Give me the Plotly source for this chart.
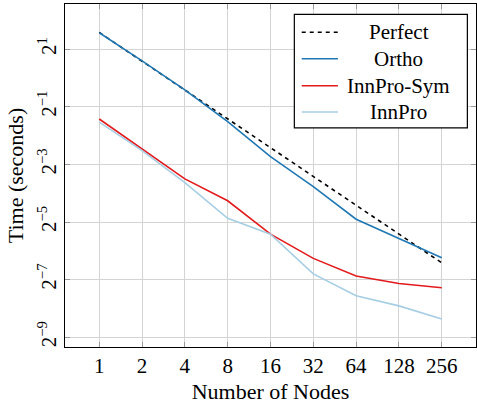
import plotly.graph_objects as go
import math

nodes = [1, 2, 4, 8, 16, 32, 64, 128, 256]
perfect = [3.0, 1.5, 0.75, 0.375, 0.1875, 0.09375, 0.046875, 0.0234375, 0.01171875]
ortho = [2.98, 1.516, 0.7526, 0.3511, 0.1507, 0.0733, 0.0335, 0.0212, 0.01323]
innpro_sym = [0.3737, 0.1805, 0.0884, 0.0522, 0.02336, 0.01305, 0.00855, 0.00714, 0.00643]
innpro = [0.3463, 0.1743, 0.0808, 0.0342, 0.02336, 0.00897, 0.0053, 0.00416, 0.00304]

series_names = ["Perfect", "Ortho", "InnPro-Sym", "InnPro"]
series_colors = ["black", "#1f78b4", "#e31a1c", "#a6cee3"]
series_dash = ["4px,4px", "solid", "solid", "solid"]
series_vals = [perfect, ortho, innpro_sym, innpro]

y_exps = [1, -1, -3, -5, -7, -9]
y_tickvals = [2.0 ** k for k in y_exps]
y_ticktext = ["2<sup>%s</sup>" % (str(k).replace("-", "\u2212")) for k in y_exps]
x_ticktext = [str(n) for n in nodes]

FONT = "Liberation Serif"
fig = go.Figure()
for name, col, dash, vals in zip(series_names, series_colors, series_dash, series_vals):
    fig.add_trace(go.Scatter(x=nodes, y=vals, mode="lines", name=name,
                             line=dict(color=col, width=1.6, dash=dash),
                             showlegend=False))

L2 = math.log10(2)
fig.update_layout(
    width=477, height=404,
    margin=dict(l=65, r=1, t=4, b=57),
    paper_bgcolor="white", plot_bgcolor="white",
    font=dict(family=FONT, size=21, color="black"),
    xaxis=dict(type="log", range=[-0.8 * L2, 8.8 * L2],
               tickvals=nodes, ticktext=x_ticktext,
               showgrid=True, gridcolor="#d4d4d4", gridwidth=1,
               ticks="inside", ticklen=5, tickcolor="#999999",
               showline=True, linecolor="black", linewidth=1, mirror="allticks",
               zeroline=False,
               title=dict(text="Number of Nodes", standoff=6,
                          font=dict(family=FONT, size=22))),
    yaxis=dict(type="log", range=[-9.337 * L2, 2.573 * L2],
               tickvals=y_tickvals, ticktext=y_ticktext, tickangle=-90,
               showgrid=True, gridcolor="#d4d4d4", gridwidth=1,
               ticks="inside", ticklen=5, tickcolor="#999999",
               showline=True, linecolor="black", linewidth=1, mirror="allticks",
               zeroline=False,
               title=dict(text="Time (seconds)", standoff=4,
                          font=dict(family=FONT, size=22))),
)

# legend box (drawn manually to keep centered labels)
bx0, bx1, by0, by1 = 0.558, 0.979, 0.639, 0.970
fig.add_shape(type="rect", xref="paper", yref="paper", x0=bx0, x1=bx1, y0=by0, y1=by1,
              line=dict(color="black", width=1.2), fillcolor="white", layer="above")
rows = [0.9175, 0.8405, 0.7618, 0.685]
for name, col, dash, ry in zip(series_names, series_colors, series_dash, rows):
    fig.add_shape(type="line", xref="paper", yref="paper", x0=0.576, x1=0.664, y0=ry, y1=ry,
                  line=dict(color=col, width=1.6, dash=dash), layer="above")
    fig.add_annotation(xref="paper", yref="paper", x=0.812, y=ry, text=name,
                       showarrow=False, xanchor="center", yanchor="middle",
                       font=dict(family=FONT, size=21, color="black"))

fig.write_html("out.html")
